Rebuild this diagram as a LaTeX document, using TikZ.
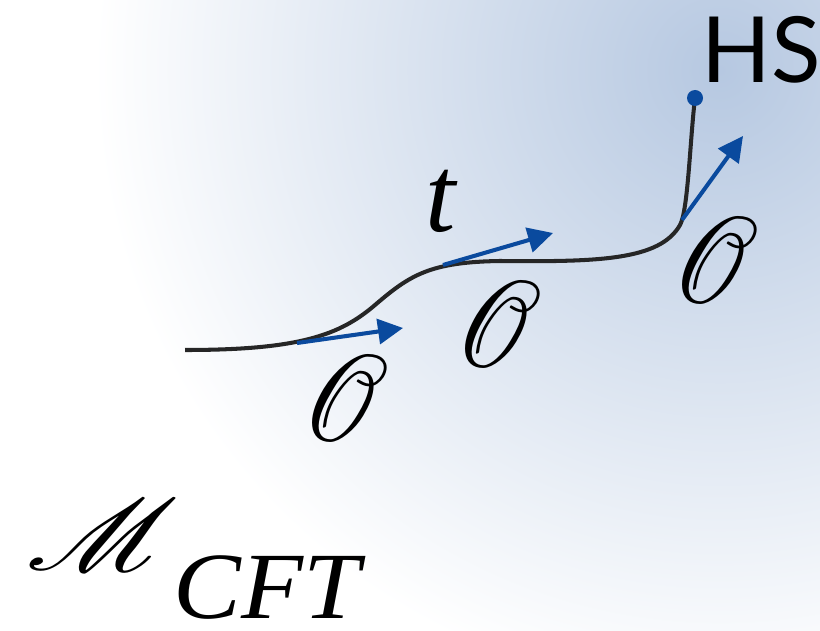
\documentclass[tikz,border=0pt]{standalone}
\usepackage{graphicx}
\usepackage{mathrsfs}
\usepackage{bm}
\usepackage{fontspec}
\newfontfamily\hsfont{Lato}
\newfontfamily\tmfont{Liberation Serif}
\usetikzlibrary{arrows.meta}
\definecolor{bgblue}{RGB}{182,200,225}
\definecolor{arrblue}{RGB}{10,74,158}
\definecolor{curvegray}{RGB}{38,38,38}
\pgfdeclareradialshading{glow}{\pgfpoint{0bp}{0bp}}{color(0bp)=(bgblue); color(355bp)=(white); color(600bp)=(white)}
\tikzset{
  flow/.style={arrblue,line width=2.3pt,-{Triangle[length=0.5cm,width=0.5cm]}},
  opnode/.style={inner sep=0pt}
}

\begin{document}
\begin{tikzpicture}[x=0.02cm,y=-0.02cm]
  \useasboundingbox (0,0) rectangle (820,631);
  \begin{scope}
    \clip (0,0) rectangle (820,631);
    \node[inner sep=0pt] (glow) at (720,70) {\pgfuseshading{glow}};
  \end{scope}

  \coordinate (start) at (185,350);
  \coordinate (hs) at (695,98);
  \draw[curvegray,line width=2.3pt] (start) .. controls (300,350) and (340,335) .. (375,305)
    .. controls (410,275) and (430,262) .. (500,261)
    .. controls (600,262) and (660,260) .. (680,225)
    .. controls (688,211) and (690,140) .. (hs);
  \fill[arrblue] (hs) circle (0.16cm);

  \coordinate (p1) at (297,343);
  \coordinate (q1) at (403,328);
  \coordinate (p2) at (443,265);
  \coordinate (q2) at (553,233);
  \coordinate (p3) at (682,220);
  \coordinate (q3) at (743,136);
  \draw[flow] (p1) -- (q1);
  \draw[flow] (p2) -- (q2);
  \draw[flow] (p3) -- (q3);

  \node[opnode] (o1) at (346,398) {\scalebox{6}[7]{$\bm{\mathscr{O}}$}};
  \node[opnode] (o2) at (499,324) {\scalebox{6}[7]{$\bm{\mathscr{O}}$}};
  \node[opnode] (o3) at (716,260) {\scalebox{6}[7]{$\bm{\mathscr{O}}$}};
  \node[opnode,anchor=base] (t) at (441,232) {\fontsize{62}{62}\selectfont\tmfont\itshape t};
  \node[opnode,anchor=base] (hslabel) at (761,83) {\fontsize{52}{52}\selectfont\hsfont HS};
  \node[opnode,anchor=base] (m) at (103,570) {\scalebox{7}[5.8]{$\bm{\mathscr{M}}$}};
  \node[opnode,anchor=base,text depth=0pt] (cft) at (267,618) {\scalebox{1.07}[1]{\fontsize{54}{54}\selectfont\tmfont\itshape CFT}};
\end{tikzpicture}
\end{document}
